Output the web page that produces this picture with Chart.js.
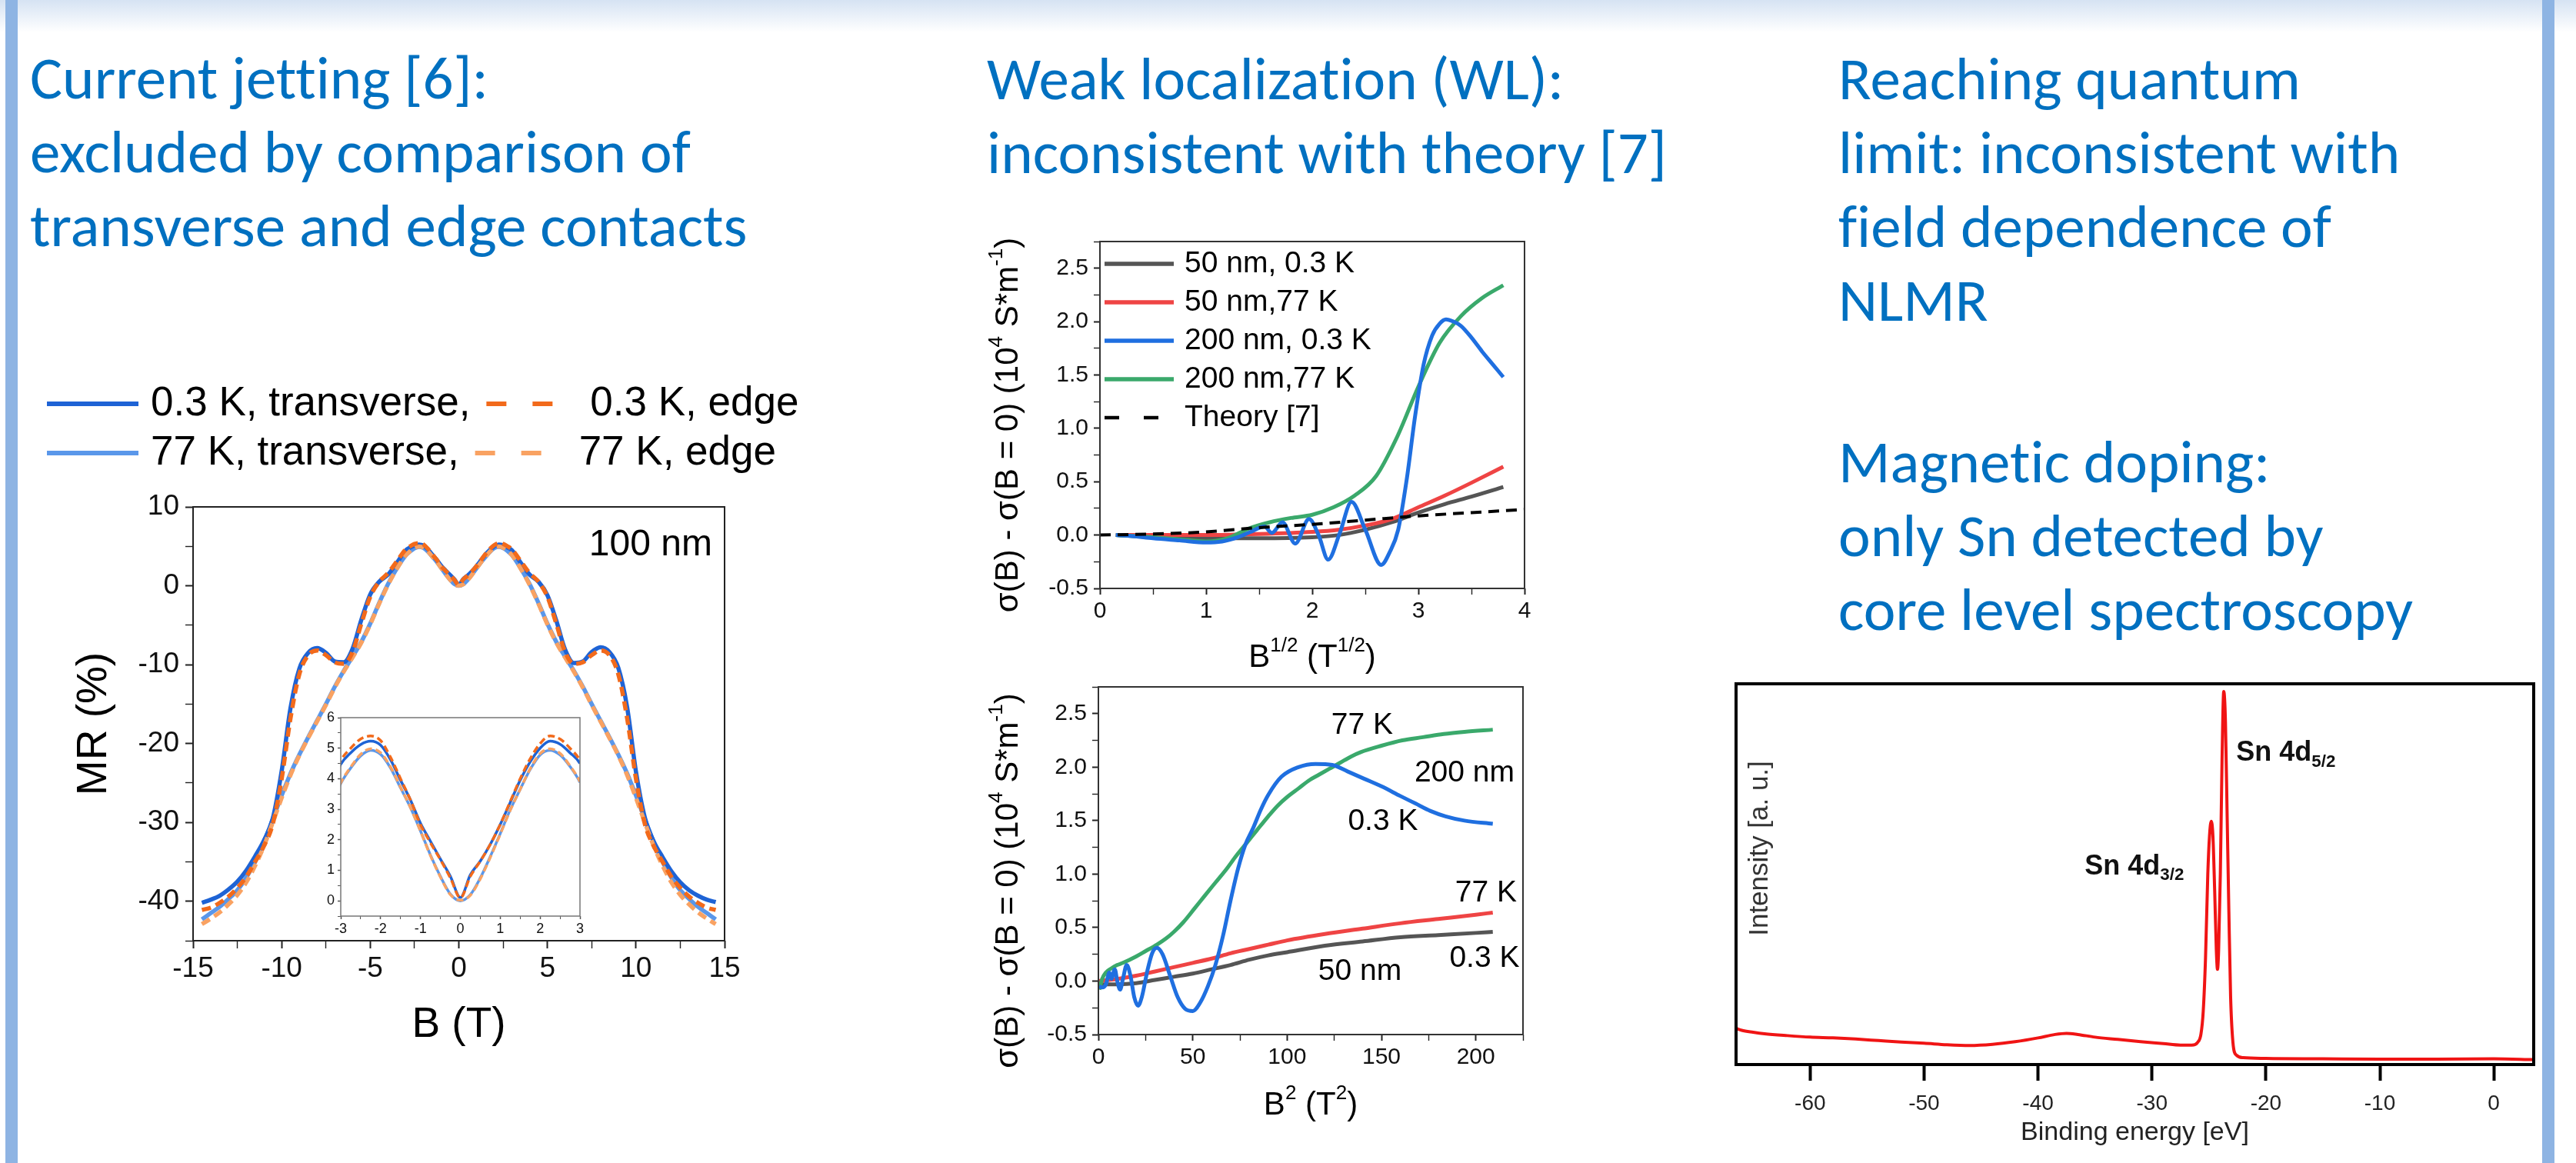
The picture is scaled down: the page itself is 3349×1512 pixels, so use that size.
<!DOCTYPE html>
<html>
<head>
<meta charset="utf-8">
<script src="https://cdn.jsdelivr.net/npm/chart.js@4.4.1/dist/chart.umd.min.js"></script>
<style>
html, body { margin: 0; padding: 0; background: #fff; }
body { width: 3349px; height: 1512px; position: relative; overflow: hidden; }
#band { position: absolute; left: 0; top: 0; width: 3349px; height: 42px; background: linear-gradient(#d6e3f3, #ffffff); }
.bar { position: absolute; top: 0; width: 16px; height: 1512px; background: #8eb4e3; }
.ttl { position: absolute; font-family: 'Carlito', 'Lato', sans-serif; color: #0070c0; font-size: 79px; line-height: 96px;
  white-space: nowrap; font-variant-ligatures: none; }
canvas { position: absolute; }
</style>
</head>
<body>
<div id="band"></div>
<div class="bar" style="left:7px"></div>
<div class="bar" style="left:3305px"></div>

<div class="ttl" style="left:39px;top:53px">Current jetting [6]:<br>excluded by comparison of<br>transverse and edge contacts</div>
<div class="ttl" style="left:1283px;top:54px">Weak localization (WL):<br>inconsistent with theory [7]</div>
<div class="ttl" style="left:2390px;top:54px">Reaching quantum<br>limit: inconsistent with<br>field dependence of<br>NLMR</div>
<div class="ttl" style="left:2390px;top:552px">Magnetic doping:<br>only Sn detected by<br>core level spectroscopy</div>

<canvas id="mr" width="1020" height="910" style="left:40px;top:470px;width:1020px;height:910px"></canvas>
<canvas id="mrInset" width="385" height="315" style="left:395px;top:915px;width:385px;height:315px"></canvas>
<canvas id="wlSqrt" width="750" height="600" style="left:1260px;top:280px;width:750px;height:600px"></canvas>
<canvas id="wlSq" width="752" height="610" style="left:1258px;top:860px;width:752px;height:610px"></canvas>
<canvas id="xps" width="1070" height="652" style="left:2230px;top:860px;width:1070px;height:652px"></canvas>

<script>
const FONT = "'Liberation Sans', Arial, Helvetica, sans-serif";
Chart.defaults.font.family = FONT;

// ---- left: MR (%) vs B (T), 100 nm ----
const fieldB = [-14.5, -14, -13.5, -13, -12.5, -12, -11.5, -11, -10.5, -10, -9.5, -9, -8.5, -8, -7.5, -7, -6.5, -6, -5.5, -5, -4.5, -4, -3.5,
  -3, -2.75, -2.5, -2.25, -2, -1.75, -1.5, -1.25, -1, -0.75, -0.5, -0.25, 0, 0.25, 0.5, 0.75, 1, 1.25, 1.5, 1.75, 2, 2.25, 2.5, 2.75, 3,
  3.5, 4, 4.5, 5, 5.5, 6, 6.5, 7, 7.5, 8, 8.5, 9, 9.5, 10, 10.5, 11, 11.5, 12, 12.5, 13, 13.5, 14, 14.5];
const mr03Transverse = [-40.2, -39.8, -39.3, -38.5, -37.5, -36.1, -34.3, -32.3, -29.5, -23.5, -15.5, -10.5, -8.5, -7.9, -8.5, -9.6, -9.7, -8.0, -4.3, -1.1, 0.5, 1.4, 2.9,
  4.47, 4.85, 5.12, 5.23, 5.1, 4.62, 3.95, 3.3, 2.54, 1.95, 1.37, 0.8, 0.11, 0.85, 1.3, 1.85, 2.5, 3.22, 3.95, 4.55, 5.0, 5.23, 5.13, 4.85, 4.5,
  2.9, 1.4, 0.5, -1.2, -4.4, -8.1, -9.8, -9.6, -8.4, -7.8, -8.4, -10.4, -15.4, -23.6, -29.4, -32.4, -34.4, -36.2, -37.6, -38.6, -39.3, -39.8, -40.1];
const mr03Edge = [-41.1, -40.8, -40.2, -39.4, -38.3, -36.9, -35.0, -33.0, -30.2, -24.5, -16.8, -11.2, -8.8, -8.2, -8.8, -9.7, -9.9, -8.4, -4.8, -1.4, 0.5, 1.6, 3.1,
  4.6, 5.0, 5.3, 5.4, 5.25, 4.7, 4.0, 3.3, 2.5, 1.9, 1.35, 0.75, 0.1, 0.8, 1.3, 1.85, 2.5, 3.25, 4.0, 4.65, 5.15, 5.4, 5.3, 5.0, 4.6,
  3.1, 1.6, 0.5, -1.4, -4.8, -8.4, -9.9, -9.7, -8.8, -8.2, -8.8, -11.2, -16.8, -24.5, -30.2, -33.0, -35.0, -36.9, -38.3, -39.4, -40.2, -40.8, -41.1];
const mr77Transverse = [-42.3, -41.5, -40.7, -39.7, -38.6, -37.0, -35.0, -32.5, -29.6, -26.6, -23.8, -21.4, -19.2, -17.1, -15.0, -12.8, -10.8, -9.0, -7.1, -4.8, -2.2, 0.2, 2.2,
  3.84, 4.35, 4.75, 4.93, 4.8, 4.35, 3.7, 3.05, 2.29, 1.5, 0.8, 0.22, 0.0, 0.2, 0.75, 1.45, 2.2, 2.98, 3.65, 4.3, 4.78, 4.93, 4.78, 4.4, 3.88,
  2.2, 0.2, -2.2, -4.8, -7.1, -9.0, -10.8, -12.8, -15.0, -17.1, -19.2, -21.4, -23.8, -26.6, -29.6, -32.5, -35.0, -37.0, -38.6, -39.7, -40.7, -41.5, -42.3];
const mr77Edge = [-42.9, -42.2, -41.4, -40.4, -39.2, -37.6, -35.5, -33.0, -30.0, -26.9, -24.0, -21.5, -19.3, -17.2, -15.1, -12.9, -10.9, -9.1, -7.2, -4.9, -2.3, 0.1, 2.15,
  3.86, 4.38, 4.8, 4.98, 4.85, 4.38, 3.72, 3.05, 2.28, 1.48, 0.78, 0.2, 0.02, 0.18, 0.72, 1.42, 2.18, 2.96, 3.65, 4.32, 4.82, 4.98, 4.83, 4.42, 3.9,
  2.15, 0.1, -2.3, -4.9, -7.2, -9.1, -10.9, -12.9, -15.1, -17.2, -19.3, -21.5, -24.0, -26.9, -30.0, -33.0, -35.5, -37.6, -39.2, -40.4, -41.4, -42.2, -42.9];

// ---- middle top: delta sigma vs B^1/2 ----
const sqrtB50 = [0.15, 0.5, 1.0, 1.5, 2.0, 2.25, 2.5, 2.75, 3.0, 3.25, 3.5, 3.8];
const sig50nm03 = [0, -0.02, -0.03, -0.03, -0.02, 0, 0.05, 0.12, 0.21, 0.29, 0.36, 0.45];
const sig50nm77 = [0, 0, 0, 0.01, 0.03, 0.05, 0.09, 0.15, 0.26, 0.37, 0.49, 0.64];
const sqrtB200cold = [0.15, 0.3, 0.5, 0.75, 1.0, 1.15, 1.3, 1.42, 1.55, 1.62, 1.72, 1.84, 1.97, 2.06, 2.15, 2.26, 2.37, 2.5, 2.65, 2.73,
  2.81, 2.89, 2.97, 3.05, 3.13, 3.2, 3.26, 3.33, 3.4, 3.5, 3.6, 3.7, 3.8];
const sig200nm03 = [0, -0.01, -0.03, -0.05, -0.07, -0.06, -0.02, 0.03, 0.08, 0.02, 0.12, -0.08, 0.15, 0.0, -0.23, 0.02, 0.31, 0.05, -0.28, -0.16,
  0.05, 0.52, 1.12, 1.6, 1.87, 1.98, 2.02, 2.0, 1.96, 1.85, 1.72, 1.6, 1.48];
const sqrtB200warm = [0.15, 0.5, 0.75, 1.0, 1.2, 1.4, 1.6, 1.8, 2.0, 2.2, 2.4, 2.6, 2.8, 3.0, 3.2, 3.4, 3.6, 3.8];
const sig200nm77 = [0, -0.02, -0.04, -0.06, -0.03, 0.06, 0.12, 0.16, 0.19, 0.26, 0.37, 0.55, 0.92, 1.39, 1.8, 2.05, 2.22, 2.34];
const sqrtBTheory = [0, 0.5, 1, 1.5, 2, 2.5, 3, 3.5, 4];
const sigTheory = [0, 0.01, 0.03, 0.07, 0.1, 0.14, 0.18, 0.21, 0.24];

// ---- middle bottom: delta sigma vs B^2 ----
const bSq50 = [0, 10, 20, 30, 40, 50, 60, 70, 80, 90, 100, 120, 140, 160, 180, 200, 209];
const sq50nm03 = [-0.03, -0.03, -0.02, 0.01, 0.04, 0.07, 0.11, 0.15, 0.2, 0.24, 0.27, 0.33, 0.37, 0.41, 0.43, 0.45, 0.46];
const sq50nm77 = [0, 0.02, 0.05, 0.09, 0.13, 0.17, 0.21, 0.26, 0.3, 0.34, 0.38, 0.44, 0.49, 0.54, 0.58, 0.62, 0.64];
const bSq200cold = [0.5, 2, 4, 5.8, 6.9, 8.7, 10, 11.5, 13, 15, 17, 19, 21, 23, 26, 28.5, 31, 34, 38, 42, 46, 50, 54, 58, 62,
  66, 70, 74, 78, 82, 86, 90, 97, 106, 115, 124, 132, 141, 150, 160, 168, 176, 184, 194, 209];
const sq200nm03 = [-0.05, -0.06, -0.03, 0.08, 0.02, 0.11, 0.0, -0.08, 0.02, 0.15, 0.05, -0.15, -0.23, -0.15, 0.1, 0.26, 0.31, 0.25, 0.05, -0.15, -0.26, -0.28, -0.2, -0.05, 0.15,
  0.42, 0.75, 1.05, 1.28, 1.43, 1.6, 1.74, 1.91, 2.0, 2.03, 2.02, 1.96, 1.89, 1.82, 1.73, 1.66, 1.59, 1.54, 1.5, 1.47];
const bSq200warm = [0.5, 2, 4, 7, 10, 13, 20, 25, 31, 36, 40, 45, 51, 56, 62, 68, 73, 79, 84, 90, 95, 100, 106, 112, 117,
  123, 128, 134, 139, 150, 161, 172, 183, 194, 209];
const sq200nm77 = [-0.08, 0.02, 0.08, 0.12, 0.15, 0.17, 0.23, 0.28, 0.34, 0.4, 0.46, 0.55, 0.68, 0.79, 0.92, 1.05, 1.17, 1.3, 1.41, 1.54, 1.64, 1.72, 1.8, 1.88, 1.93,
  1.99, 2.04, 2.1, 2.14, 2.2, 2.25, 2.28, 2.31, 2.33, 2.35];

// ---- right: Sn 4d core level spectrum ----
const bindingEnergy = [-66.5, -66, -65, -64, -62, -60, -58, -56, -54, -52, -50, -48, -46, -44, -42, -40, -38.5, -37.5, -36.5, -35,
  -33, -31, -29, -27.5, -26.5, -26, -25.7, -25.5, -25.3, -25.1, -24.95, -24.8, -24.65, -24.5, -24.35, -24.25, -24.15, -24.0, -23.85, -23.7,
  -23.55, -23.4, -23.25, -23.1, -22.9, -22.6, -22, -20, -15, -10, -5, 0, 3.5];
const xpsIntensity = [9.5, 9.0, 8.5, 8.1, 7.6, 7.2, 7.0, 6.7, 6.3, 5.9, 5.6, 5.2, 5.0, 5.3, 6.0, 7.0, 7.9, 8.2, 7.9, 7.2,
  6.6, 6.0, 5.5, 5.1, 5.1, 5.8, 8, 14, 28, 50, 60, 63.9, 60, 46, 30, 25, 30, 50, 80, 98,
  90, 65, 40, 18, 6, 2.5, 1.8, 1.6, 1.5, 1.4, 1.4, 1.5, 1.3];
const energyTicks = [-60, -50, -40, -30, -20, -10, 0];

function pts(xs, ys) { return xs.map((x, i) => ({x: x, y: ys[i]})); }

function drawRich(ctx, it, x, y) {
  const weight = it.bold ? 'bold ' : '';
  const parts = typeof it.parts === 'string' ? [{t: it.parts}] : it.parts;
  const segs = parts.map(p => {
    const size = (p.sup || p.sub) ? it.size * 0.62 : it.size;
    ctx.font = weight + size + 'px ' + FONT;
    return {t: p.t, size: size, w: ctx.measureText(p.t).width, dy: p.sup ? -it.size * 0.36 : (p.sub ? it.size * 0.22 : 0)};
  });
  const total = segs.reduce((s, g) => s + g.w, 0);
  let cx = it.align === 'left' ? 0 : (it.align === 'right' ? -total : -total / 2);
  ctx.save();
  ctx.translate(x, y);
  if (it.rot) ctx.rotate(it.rot * Math.PI / 180);
  ctx.fillStyle = it.color || '#000';
  ctx.textBaseline = it.base || 'middle';
  ctx.textAlign = 'left';
  segs.forEach(g => {
    ctx.font = weight + g.size + 'px ' + FONT;
    ctx.fillText(g.t, cx, g.dy);
    cx += g.w;
  });
  ctx.restore();
}

// box round the plot, optional white fill (inset)
function framePlugin(color, width, fill) {
  return {
    id: 'frame',
    beforeDraw(chart) {
      if (!fill) return;
      const a = chart.chartArea;
      chart.ctx.save();
      chart.ctx.fillStyle = fill;
      chart.ctx.fillRect(a.left, a.top, a.right - a.left, a.bottom - a.top);
      chart.ctx.restore();
    },
    afterDatasetsDraw(chart) {
      const a = chart.chartArea, ctx = chart.ctx;
      ctx.save();
      ctx.strokeStyle = color;
      ctx.lineWidth = width;
      ctx.strokeRect(a.left, a.top, a.right - a.left, a.bottom - a.top);
      ctx.restore();
    }
  };
}

// line-sample legend placed relative to the plot area
function legendPlugin(o) {
  return {
    id: 'lineLegend',
    afterDraw(chart) {
      const ctx = chart.ctx, a = chart.chartArea;
      ctx.save();
      ctx.font = o.size + 'px ' + FONT;
      ctx.textBaseline = 'middle';
      ctx.fillStyle = '#000';
      o.rows.forEach((row, r) => {
        let x = a.left + o.dx;
        const y = a.top + o.dy + r * o.rowH;
        row.forEach(i => {
          const ds = chart.data.datasets[i];
          ctx.strokeStyle = ds.borderColor;
          ctx.lineWidth = ds.borderWidth + 0.5;
          ctx.setLineDash(ds.borderDash ? o.dash : []);
          ctx.beginPath();
          ctx.moveTo(x, y);
          ctx.lineTo(x + o.len, y);
          ctx.stroke();
          ctx.setLineDash([]);
          x += o.len + o.gap;
          ctx.fillText(ds.label, x, y);
          x += ctx.measureText(ds.label).width + o.sep;
        });
      });
      ctx.restore();
    }
  };
}

// text with super/subscripts, at data values (at) or relative to the plot area (area)
function textPlugin(items) {
  return {
    id: 'richText',
    afterDraw(chart) {
      const a = chart.chartArea, sc = chart.scales;
      items.forEach(it => {
        let x, y;
        if (it.at) {
          x = sc.x.getPixelForValue(it.at[0]);
          y = sc.y.getPixelForValue(it.at[1]);
        } else {
          x = a.left + it.area[0] * (a.right - a.left) + it.area[2];
          y = a.top + it.area[1] * (a.bottom - a.top) + it.area[3];
        }
        drawRich(chart.ctx, it, x, y);
      });
    }
  };
}

function linAxis(o) {
  const major = v => Math.abs(v / o.major - Math.round(v / o.major)) < 1e-6;
  const tw = o.tw || 2;
  const ax = {
    type: 'linear', position: o.pos, min: o.min, max: o.max, display: o.display === undefined ? true : o.display,
    afterFit: s => { if (o.pos === 'left') s.width = o.size; else s.height = o.size; },
    border: {display: false},
    grid: {drawOnChartArea: false, drawTicks: true, tickLength: o.tl, tickColor: o.tc || '#222',
      tickWidth: c => (c.tick && major(c.tick.value) ? tw : tw * 0.7)},
    ticks: {stepSize: o.step, autoSkip: false, maxTicksLimit: 300, includeBounds: false, maxRotation: 0, minRotation: 0,
      padding: o.pad, color: o.color || '#111', font: {family: FONT, size: o.fs},
      callback: v => (major(v) ? (o.fmt ? o.fmt(v) : String(v)) : '')},
    title: o.title ? {display: true, text: o.title, color: o.titleColor || '#000', font: {family: FONT, size: o.titleSize}, padding: o.titlePad}
      : {display: false}
  };
  if (o.tickValues) ax.afterBuildTicks = s => { s.ticks = o.tickValues.map(v => ({value: v})); };
  return ax;
}

const common = {
  responsive: false, animation: false, events: [],
  elements: {point: {radius: 0}, line: {tension: 0.4, cubicInterpolationMode: 'monotone', borderCapStyle: 'butt', fill: false}}
};
const noBuiltins = {legend: {display: false}, tooltip: {enabled: false}, title: {display: false}};

function mrSets(width, dash) {
  return [
    {label: '0.3 K, transverse,', data: pts(fieldB, mr03Transverse), borderColor: '#1e63d5', borderWidth: width, order: 2},
    {label: '0.3 K, edge', data: pts(fieldB, mr03Edge), borderColor: '#f26a1b', borderWidth: width, borderDash: dash, order: 0},
    {label: '77 K, transverse,', data: pts(fieldB, mr77Transverse), borderColor: '#5a97ea', borderWidth: width, order: 3},
    {label: '77 K, edge', data: pts(fieldB, mr77Edge), borderColor: '#f9a262', borderWidth: width, borderDash: dash, order: 1}
  ];
}

new Chart(document.getElementById('mr'), {
  type: 'line',
  data: {datasets: mrSets(5.5, [12, 7])},
  options: Object.assign({}, common, {
    layout: {padding: {left: 0, right: 118, top: 189, bottom: 0}},
    scales: {
      x: linAxis({pos: 'bottom', min: -15, max: 15, step: 2.5, major: 5, size: 157, tl: 10, pad: 5, fs: 37,
        title: 'B (T)', titleSize: 55, titlePad: {top: 0, bottom: 14}}),
      y: linAxis({pos: 'left', min: -45, max: 10, step: 5, major: 10, size: 211, tl: 10, pad: 8, fs: 37,
        title: 'MR (%)', titleSize: 55, titlePad: {top: 50, bottom: 0}})
    },
    plugins: noBuiltins
  }),
  plugins: [
    framePlugin('#222', 2),
    legendPlugin({rows: [[0, 1], [2, 3]], dx: -190, dy: -134, rowH: 64, len: 119, gap: 16, sep: 21, size: 53, dash: [26, 34]}),
    textPlugin([{parts: '100 nm', at: [14.3, 3.9], size: 48, align: 'right', base: 'alphabetic'}])
  ]
});

new Chart(document.getElementById('mrInset'), {
  type: 'line',
  data: {datasets: mrSets(3.5, [9, 5])},
  options: Object.assign({}, common, {
    layout: {padding: {left: 0, right: 26, top: 18, bottom: 0}},
    scales: {
      x: linAxis({pos: 'bottom', min: -3, max: 3, step: 0.5, major: 1, size: 39, tl: 4, pad: 2, fs: 18, tc: '#555', tw: 1.5}),
      y: linAxis({pos: 'left', min: -0.5, max: 6, step: 0.5, major: 1, size: 48, tl: 4, pad: 4, fs: 18, tc: '#555', tw: 1.5})
    },
    plugins: noBuiltins
  }),
  plugins: [framePlugin('#777', 1.5, '#ffffff')]
});

const sigmaTitle = [{t: 'σ(B) - σ(B = 0) (10'}, {t: '4', sup: true}, {t: ' S*m'}, {t: '-1', sup: true}, {t: ')'}];
const sigmaY = {min: -0.5, max: 2.75, step: 0.25, major: 0.5, size: 170, tl: 8, pad: 7, fs: 30, fmt: v => v.toFixed(1)};

new Chart(document.getElementById('wlSqrt'), {
  type: 'line',
  data: {datasets: [
    {label: '50 nm, 0.3 K', data: pts(sqrtB50, sig50nm03), borderColor: '#555555', borderWidth: 5, order: 4},
    {label: '50 nm,77 K', data: pts(sqrtB50, sig50nm77), borderColor: '#ef4444', borderWidth: 5, order: 3},
    {label: '200 nm, 0.3 K', data: pts(sqrtB200cold, sig200nm03), borderColor: '#1f6fe0', borderWidth: 5, order: 1},
    {label: '200 nm,77 K', data: pts(sqrtB200warm, sig200nm77), borderColor: '#3aa96b', borderWidth: 5, order: 2},
    {label: 'Theory [7]', data: pts(sqrtBTheory, sigTheory), borderColor: '#000000', borderWidth: 4, borderDash: [14, 9], order: 0}
  ]},
  options: Object.assign({}, common, {
    layout: {padding: {left: 0, right: 28, top: 34, bottom: 0}},
    scales: {
      x: linAxis({pos: 'bottom', min: 0, max: 4, step: 0.5, major: 1, size: 115, tl: 8, pad: 4, fs: 30}),
      y: linAxis(Object.assign({pos: 'left'}, sigmaY))
    },
    plugins: noBuiltins
  }),
  plugins: [
    framePlugin('#333', 2),
    legendPlugin({rows: [[0], [1], [2], [3], [4]], dx: 6, dy: 29, rowH: 50, len: 90, gap: 14, sep: 0, size: 39, dash: [19, 32]}),
    textPlugin([
      {parts: [{t: 'B'}, {t: '1/2', sup: true}, {t: ' (T'}, {t: '1/2', sup: true}, {t: ')'}], area: [0.5, 1, 0, 90], size: 42},
      {parts: sigmaTitle, area: [0, 0.5, -119, 13], size: 42, rot: -90}
    ])
  ]
});

new Chart(document.getElementById('wlSq'), {
  type: 'line',
  data: {datasets: [
    {label: '50 nm, 0.3 K', data: pts(bSq50, sq50nm03), borderColor: '#555555', borderWidth: 5, order: 4},
    {label: '50 nm,77 K', data: pts(bSq50, sq50nm77), borderColor: '#ef4444', borderWidth: 5, order: 3},
    {label: '200 nm, 0.3 K', data: pts(bSq200cold, sq200nm03), borderColor: '#1f6fe0', borderWidth: 5, order: 1},
    {label: '200 nm,77 K', data: pts(bSq200warm, sq200nm77), borderColor: '#3aa96b', borderWidth: 5, order: 2}
  ]},
  options: Object.assign({}, common, {
    layout: {padding: {left: 0, right: 30, top: 33, bottom: 0}},
    scales: {
      x: linAxis({pos: 'bottom', min: 0, max: 225, step: 25, major: 50, size: 125, tl: 8, pad: 4, fs: 30}),
      y: linAxis(Object.assign({pos: 'left'}, sigmaY))
    },
    plugins: noBuiltins
  }),
  plugins: [
    framePlugin('#333', 2),
    textPlugin([
      {parts: [{t: 'B'}, {t: '2', sup: true}, {t: ' (T'}, {t: '2', sup: true}, {t: ')'}], area: [0.5, 1, 0, 92], size: 42},
      {parts: sigmaTitle, area: [0, 0.5, -117, 26], size: 42, rot: -90},
      {parts: '77 K', at: [139.8, 2.39], size: 39},
      {parts: '200 nm', at: [194, 1.94], size: 39},
      {parts: '0.3 K', at: [150.8, 1.49], size: 39},
      {parts: '77 K', at: [205.4, 0.82], size: 39},
      {parts: '0.3 K', at: [204.6, 0.21], size: 39},
      {parts: '50 nm', at: [138.6, 0.09], size: 39}
    ])
  ]
});

new Chart(document.getElementById('xps'), {
  type: 'line',
  data: {datasets: [
    {label: 'Sn 4d', data: pts(bindingEnergy, xpsIntensity), borderColor: '#f01414', borderWidth: 4}
  ]},
  options: Object.assign({}, common, {
    layout: {padding: {left: 27, right: 6, top: 29, bottom: 0}},
    scales: {
      x: linAxis({pos: 'bottom', min: -66.5, max: 3.5, step: 10, major: 10, size: 128, tl: 21, tw: 4, tc: '#000', pad: 13, fs: 28,
        tickValues: energyTicks, color: '#222', title: 'Binding energy [eV]', titleSize: 34, titleColor: '#222', titlePad: {top: 0, bottom: 19}}),
      y: linAxis({pos: 'left', min: 0, max: 100, step: 10, major: 10, size: 0, tl: 0, pad: 0, fs: 10, display: false})
    },
    plugins: noBuiltins
  }),
  plugins: [
    framePlugin('#000', 4),
    textPlugin([
      {parts: 'Intensity [a. u.]', area: [0, 0, 31, 214], size: 35, rot: -90, color: '#333'},
      {parts: [{t: 'Sn 4d'}, {t: '3/2', sub: true}], at: [-35.9, 50], size: 36, bold: true, align: 'left', base: 'alphabetic', color: '#111'},
      {parts: [{t: 'Sn 4d'}, {t: '5/2', sub: true}], at: [-22.6, 79.8], size: 36, bold: true, align: 'left', base: 'alphabetic', color: '#111'}
    ])
  ]
});
</script>
</body>
</html>
